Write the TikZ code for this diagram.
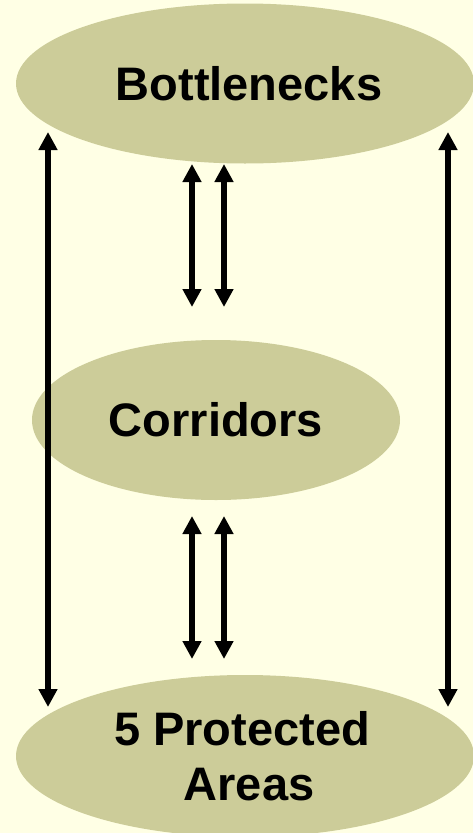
\documentclass[tikz,border=0pt]{standalone}
\usepackage{fontspec}
\setmainfont{Liberation Sans}
\usetikzlibrary{shapes.geometric,arrows.meta}
\definecolor{bgyellow}{RGB}{255,255,229}
\definecolor{khaki}{RGB}{204,204,153}
\tikzset{
  blob/.style={ellipse, fill=khaki, draw=none, inner sep=0pt,
    font=\fontsize{47}{55}\selectfont\bfseries, align=center},
  dbl/.style={line width=6.5pt, {Triangle[length=18pt,width=18pt]}-{Triangle[length=18pt,width=18pt]}}
}
\begin{document}
\begin{tikzpicture}[x=1pt,y=-1pt]
\fill[bgyellow] (0,0) rectangle (473,833);
\useasboundingbox (0,0) rectangle (473,833);
\node[blob, minimum width=458pt, minimum height=160pt] (bott) at (245,83.5) {\hspace*{8pt}Bottlenecks};
\node[blob, minimum width=368pt, minimum height=160pt] (corr) at (216,420) {Corridors};
\node[blob, minimum width=458pt, minimum height=162pt] (prot) at (245,756) {\hspace*{-6pt}5 Protected\\\hspace*{8pt}Areas};
% long arrows
\coordinate (lt) at (48,132);
\coordinate (lb) at (48,707);
\coordinate (rt) at (448,132);
\coordinate (rb) at (448,707);
\draw[dbl] (lt) -- (lb);
\draw[dbl] (rt) -- (rb);
% short arrows upper
\coordinate (a1t) at (192,164);
\coordinate (a1b) at (192,307);
\coordinate (a2t) at (224,164);
\coordinate (a2b) at (224,307);
\draw[dbl] (a1t) -- (a1b);
\draw[dbl] (a2t) -- (a2b);
% short arrows lower
\coordinate (b1t) at (192,516);
\coordinate (b1b) at (192,659);
\coordinate (b2t) at (224,516);
\coordinate (b2b) at (224,659);
\draw[dbl] (b1t) -- (b1b);
\draw[dbl] (b2t) -- (b2b);
\end{tikzpicture}
\end{document}
